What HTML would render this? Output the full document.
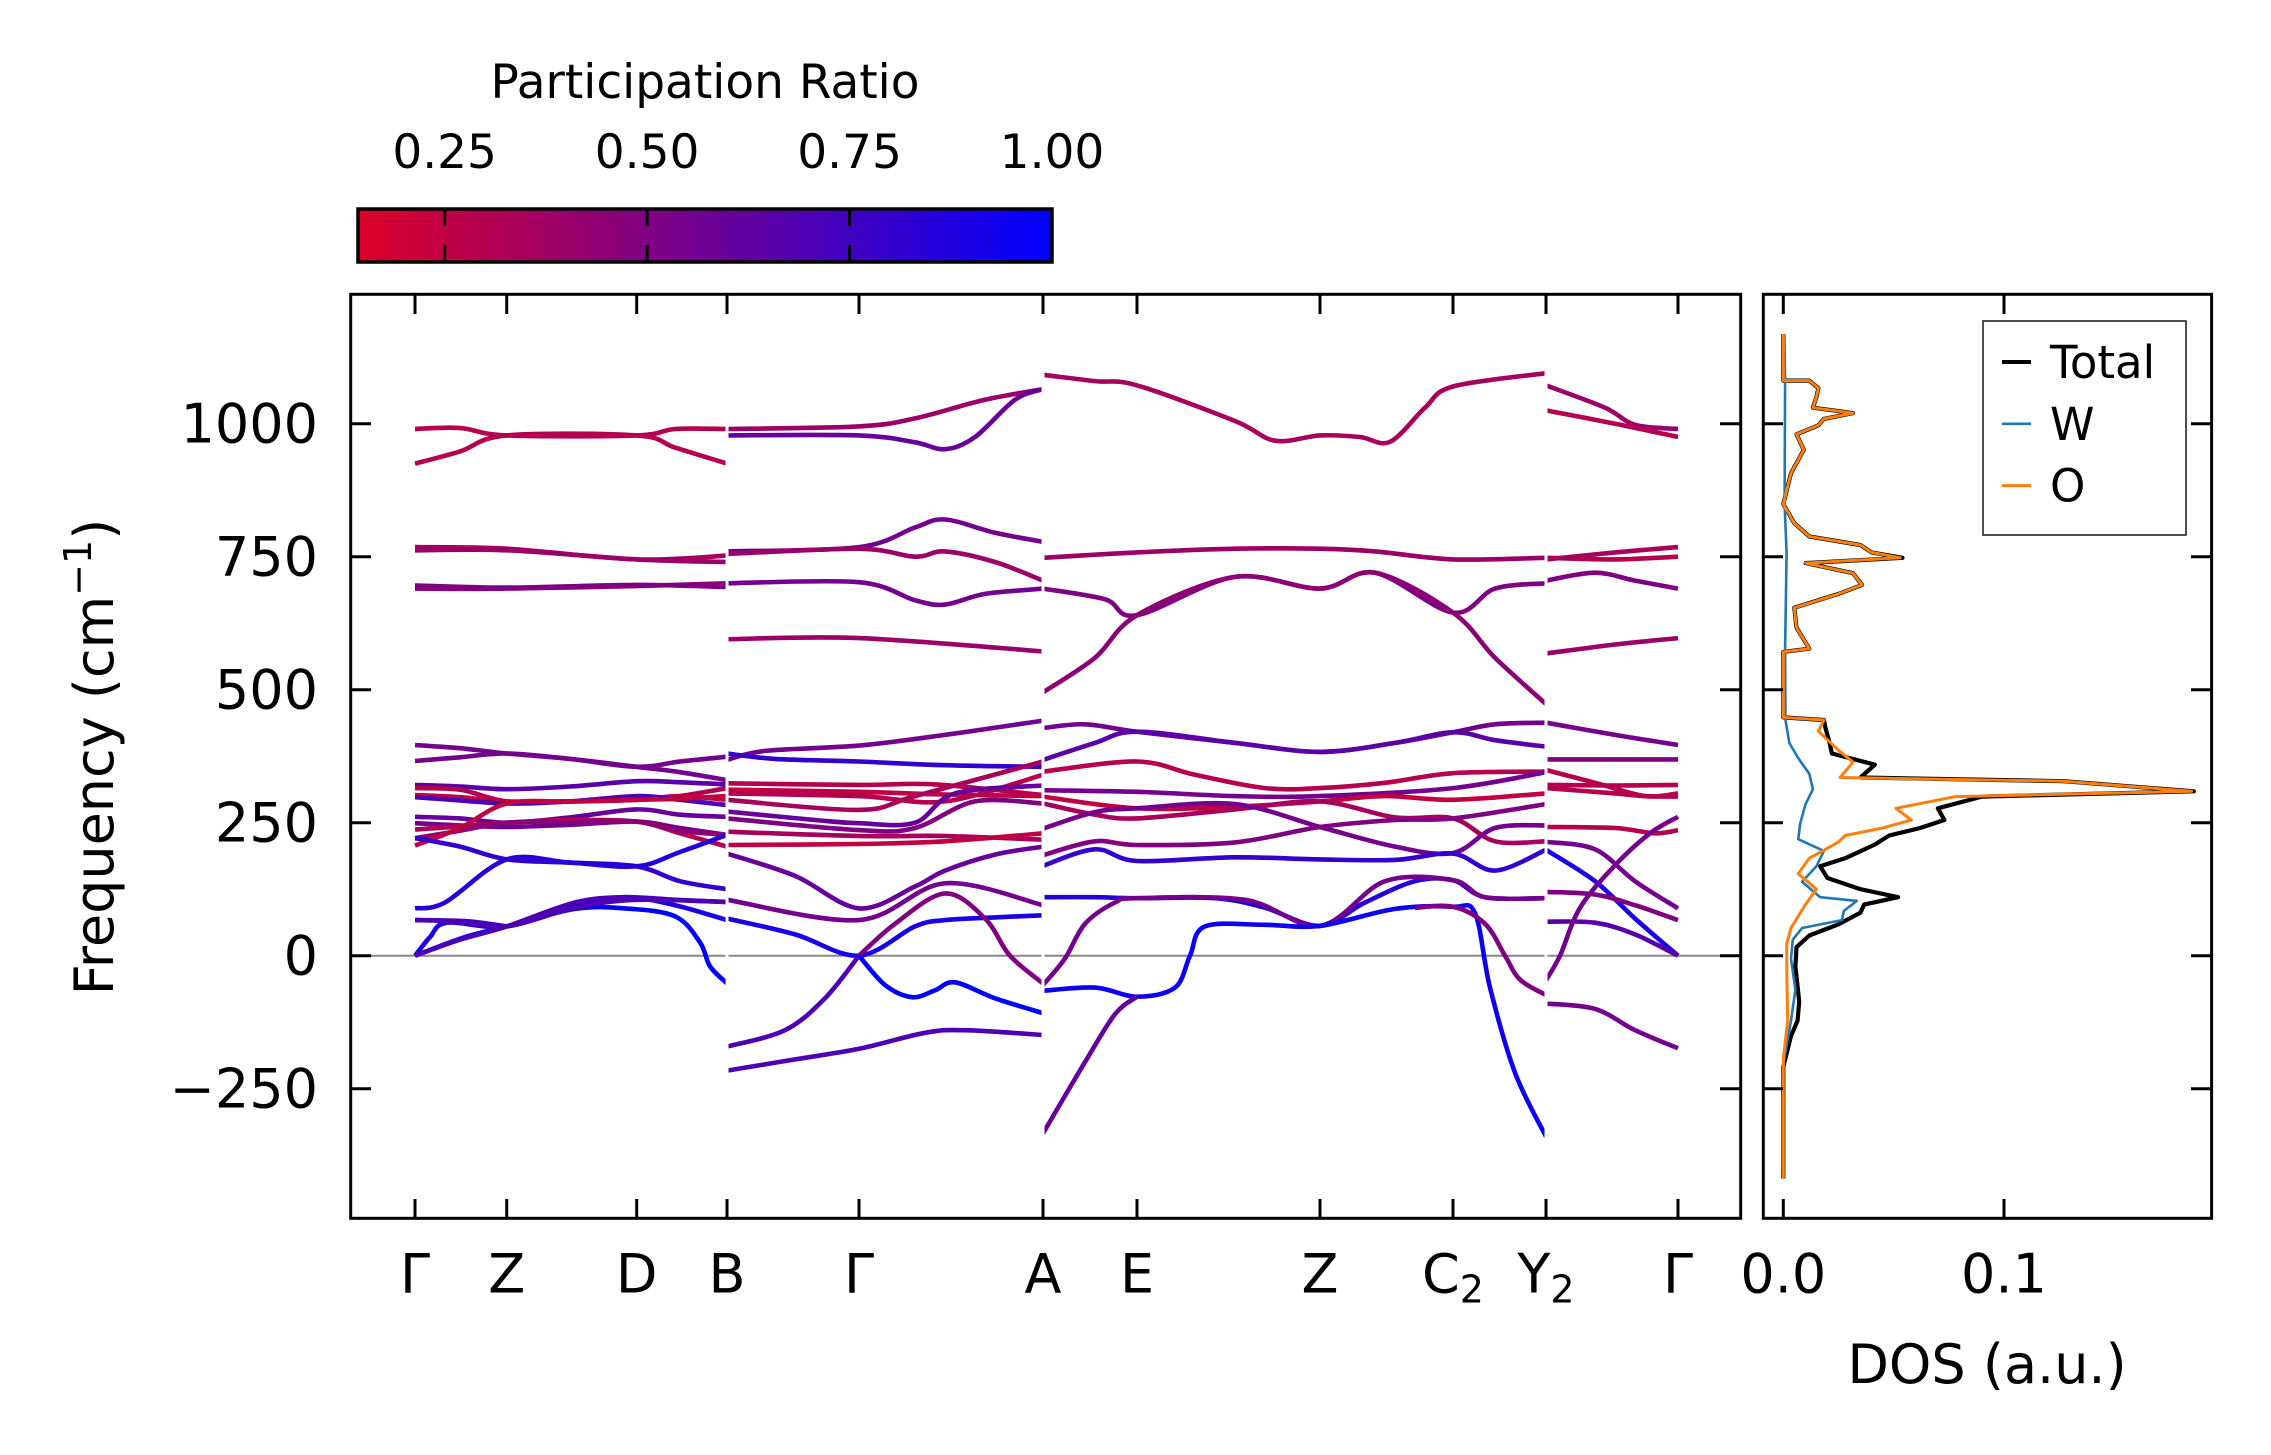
<!DOCTYPE html>
<html><head><meta charset="utf-8">
<style>
html,body{margin:0;padding:0;background:#fff;}
svg{display:block;font-family:"DejaVu Sans","Liberation Sans",sans-serif;}
</style></head>
<body>
<svg id="chart" width="2271" height="1455" viewBox="0 0 2271 1455" xmlns="http://www.w3.org/2000/svg">
<defs>
<linearGradient id="cbgrad" x1="0" x2="1" y1="0" y2="0">
<stop offset="0" stop-color="rgb(220,0,40)"/>
<stop offset="1" stop-color="rgb(0,0,255)"/>
</linearGradient>
<clipPath id="mainclip"><rect x="352" y="296" width="1387" height="921"/></clipPath>
<clipPath id="dosclip"><rect x="1765" y="296" width="445" height="921"/></clipPath>
</defs>
<g id="colorbar">
<text x="705" y="98" font-size="47" text-anchor="middle">Participation Ratio</text>
<rect x="358" y="209" width="694" height="53" fill="url(#cbgrad)" stroke="#000" stroke-width="3.5"/>
</g>
<g id="main"></g>
<g id="dos"></g>
</svg>
<script>
// ---- data ----
const cbTicks = [0.25, 0.5, 0.75, 1.0];
const cbTickLabels = ["0.25", "0.50", "0.75", "1.00"];
const yTicks = [-250, 0, 250, 500, 750, 1000];
const yTickLabels = ["\u2212250", "0", "250", "500", "750", "1000"];
const kTicks = [0, 0.917, 2.217, 3.12, 4.44, 6.28, 7.22, 9.05, 10.38, 11.31, 12.63];
const kLabels = ["\u0393", "Z", "D", "B", "\u0393", "A", "E", "Z", "C|2", "Y|2", "\u0393"];
const dosTicks = [0.0, 0.1];
const dosTickLabels = ["0.0", "0.1"];

const bandPR = [
 .3,.3,.35,.4,.45,.5,
 .55,.55,.65,.3,.25,.7,.6,.55,.3,.45,.25,.8,.85,.75,.9,1.0,.7,.7,
 .4,.6,.55,.4,.55,.4,
 .55,.8,.3,.25,.35,.3,.6,.5,.35,.25,.6,.55,.9,.5,.7,1.0,.7,
 .35,.4,.5,.45,
 .55,.65,.3,.55,.25,.35,.55,.5,.8,.85,.55,.95,.6,.5,
 .4,.3,.3,.35,.5,.4,
 .55,.5,.3,.3,.3,.3,.55,.9,.5,.65,.55,.55
];
const bandPts = [
 [[0,990],[0.45,992],[0.917,978],[2.217,978],[2.6,990],[3.12,990]],
 [[0,925],[0.45,948],[0.917,978],[2.217,978],[2.6,955],[3.12,925]],
 [[0,768],[0.917,765],[2.217,745],[3.12,752]],
 [[0,762],[0.917,762],[2.217,745],[3.12,740]],
 [[0,690],[0.917,690],[2.217,695],[3.12,700]],
 [[0,696],[0.917,692],[2.217,697],[3.12,693]],
 [[0,396],[0.45,390],[0.917,380],[1.55,370],[2.217,355],[2.65,345],[3.12,330]],
 [[0,366],[0.45,373],[0.917,380],[1.55,370],[2.217,355],[2.65,365],[3.12,374]],
 [[0,321],[0.45,318],[0.917,313],[1.55,318],[2.217,328],[2.65,326],[3.12,322]],
 [[0,315],[0.45,312],[0.917,290],[1.55,290],[2.217,293],[2.65,300],[3.12,315]],
 [[0,302],[0.45,298],[0.917,290],[1.55,290],[2.217,293],[2.65,300],[3.12,293]],
 [[0,298],[0.45,292],[0.917,286],[1.55,290],[2.217,300],[2.65,293],[3.12,283]],
 [[0,261],[0.45,258],[0.917,250],[1.55,260],[2.217,275],[2.65,265],[3.12,261]],
 [[0,249],[0.45,245],[0.917,242],[1.55,246],[2.217,252],[2.65,240],[3.12,227]],
 [[0,237],[0.45,243],[0.917,250],[1.55,255],[2.217,252],[2.65,230],[3.12,205]],
 [[0,221],[0.45,235],[0.917,250],[1.55,252],[2.217,252],[2.65,235],[3.12,227]],
 [[0,207],[0.45,240],[0.917,286],[1.55,290],[2.217,293],[2.65,295],[3.12,300]],
 [[0,221],[0.45,205],[0.917,181],[1.55,175],[2.217,168],[2.65,140],[3.12,125]],
 [[0,89],[0.3,100],[0.917,181],[1.55,175],[2.217,168],[2.65,195],[3.12,227]],
 [[0,67],[0.5,65],[0.917,55]],
 [[0,0],[0.15,35],[0.32,62],[0.917,55],[1.6,95],[2.1,110],[2.6,95],[3.12,67]],
 [[0,0],[0.5,35],[0.917,55],[1.6,88],[2.1,89],[2.6,74],[2.85,25],[2.95,-20],[3.12,-52]],
 [[0,0],[0.45,30],[0.917,55],[1.6,100],[2.1,110],[2.6,105],[3.12,101]],
 [[0,67],[0.45,64],[0.917,55],[1.6,90],[2.217,105],[3.12,101]],
 [[3.12,990],[4.44,995],[5.0,1010],[5.7,1045],[6.28,1065]],
 [[3.12,978],[4.44,978],[5.0,965],[5.3,952],[5.6,975],[6.0,1045],[6.28,1065]],
 [[3.12,760],[4.44,768],[5.0,805],[5.3,820],[5.8,795],[6.28,778]],
 [[3.12,755],[4.44,765],[5.0,750],[5.3,760],[5.8,740],[6.28,705]],
 [[3.12,700],[4.44,702],[5.0,668],[5.3,660],[5.7,680],[6.28,690]],
 [[3.12,595],[4.44,597],[6.28,572]],
 [[3.12,368],[3.5,385],[4.44,395],[5.3,415],[6.28,442]],
 [[3.12,380],[3.6,370],[4.44,365],[5.3,358],[6.28,355]],
 [[3.12,324],[4.44,321],[5.2,322],[6.28,302]],
 [[3.12,312],[4.44,308],[5.3,303],[6.28,300]],
 [[3.12,293],[4.44,274],[5.0,300],[6.28,365]],
 [[3.12,305],[4.44,300],[5.3,290],[6.28,340]],
 [[3.12,271],[4.0,255],[4.44,249],[5.0,250],[5.4,305],[6.28,320]],
 [[3.12,258],[4.44,236],[5.0,240],[5.6,290],[6.28,286]],
 [[3.12,233],[4.44,225],[5.3,225],[6.28,218]],
 [[3.12,208],[4.44,210],[5.3,215],[6.28,230]],
 [[3.12,192],[3.8,150],[4.44,89],[5.0,130],[5.3,160],[5.8,190],[6.28,205]],
 [[3.12,105],[4.44,67],[5.3,136],[6.28,95]],
 [[3.12,70],[3.8,40],[4.44,0],[5.0,55],[5.3,67],[5.8,72],[6.28,76]],
 [[4.44,0],[4.8,60],[5.3,117],[5.7,70],[5.95,0],[6.28,-52]],
 [[3.12,-171],[3.7,-140],[4.1,-80],[4.44,0]],
 [[4.44,0],[4.7,-55],[4.97,-78],[5.2,-65],[5.4,-50],[5.8,-80],[6.28,-108]],
 [[3.12,-216],[3.8,-195],[4.44,-175],[5.1,-145],[5.5,-140],[6.28,-149]],
 [[6.28,1092],[6.8,1080],[7.22,1072],[8.2,1005],[8.6,968],[9.05,978],[9.45,975],[9.75,966],[10.1,1030],[10.38,1070],[11.31,1095]],
 [[6.28,748],[7.22,758],[8.2,765],[9.05,765],[9.6,760],[10.38,745],[11.31,748]],
 [[6.28,690],[6.9,670],[7.22,640],[8.2,712],[9.05,690],[9.6,720],[10.38,645],[10.8,690],[11.31,700]],
 [[6.28,495],[6.8,560],[7.22,640],[8.2,712],[9.05,690],[9.6,720],[10.38,645],[10.8,560],[11.31,473]],
 [[6.28,428],[6.7,435],[7.22,421],[8.2,400],[9.05,383],[9.8,400],[10.38,420],[10.8,435],[11.31,438]],
 [[6.28,368],[6.8,400],[7.22,421],[8.2,400],[9.05,383],[9.8,400],[10.38,420],[10.8,405],[11.31,393]],
 [[6.28,346],[7.22,365],[7.8,340],[8.5,315],[9.05,315],[9.7,325],[10.38,343],[11.31,346]],
 [[6.28,311],[7.22,308],[8.2,300],[9.05,300],[10.38,315],[11.31,345]],
 [[6.28,299],[7.22,277],[8.2,280],[9.05,290],[9.7,300],[10.38,293],[11.31,305]],
 [[6.28,286],[6.8,265],[7.22,258],[8.2,275],[9.05,290],[9.8,260],[10.38,258],[10.8,215],[11.31,215]],
 [[6.28,239],[6.8,270],[7.22,277],[8.2,285],[9.05,242],[9.8,205],[10.38,193],[10.8,240],[11.31,245]],
 [[6.28,189],[6.8,215],[7.22,208],[8.2,213],[9.05,242],[9.8,255],[10.38,258],[11.31,285]],
 [[6.28,169],[6.8,200],[7.22,178],[8.2,185],[9.05,181],[9.8,180],[10.38,192],[10.8,160],[11.31,199]],
 [[6.28,110],[6.8,110],[7.22,108],[8.0,108],[8.5,90],[9.05,56],[9.5,100],[10.0,140],[10.38,142],[10.7,110],[11.31,108]],
 [[6.28,-55],[6.5,-5],[6.7,60],[7.0,100],[7.22,108],[8.3,105],[9.05,56],[9.7,140],[10.38,142],[10.7,110],[11.31,108]],
 [[6.28,-66],[6.8,-60],[7.22,-77],[7.6,-60],[7.75,0],[7.9,55],[8.5,58],[9.05,56],[9.8,88],[10.38,92],[10.6,80],[10.75,-60],[11.0,-220],[11.31,-340]],
 [[6.28,-334],[6.7,-200],[7.0,-110],[7.22,-77]],
 [[10.0,90],[10.38,92],[10.7,60],[10.9,0],[11.05,-45],[11.31,-74]],
 [[11.31,1072],[11.9,1030],[12.2,998],[12.63,990]],
 [[11.31,1025],[12.0,1000],[12.63,975]],
 [[11.31,748],[12.0,745],[12.63,750]],
 [[11.31,745],[12.0,758],[12.63,768]],
 [[11.31,705],[11.8,720],[12.2,705],[12.63,690]],
 [[11.31,568],[12.0,585],[12.63,597]],
 [[11.31,438],[12.0,415],[12.63,396]],
 [[11.31,369],[12.63,369]],
 [[11.31,349],[11.8,325],[12.3,300],[12.63,305]],
 [[11.31,321],[12.0,320],[12.63,321]],
 [[11.31,315],[12.0,305],[12.3,300],[12.63,299]],
 [[11.31,242],[12.0,240],[12.4,230],[12.63,236]],
 [[11.31,214],[11.8,200],[12.2,140],[12.63,89]],
 [[11.31,199],[11.8,140],[12.2,70],[12.63,0]],
 [[11.31,120],[11.8,115],[12.2,95],[12.63,67]],
 [[11.31,64],[11.8,62],[12.2,40],[12.63,0]],
 [[11.31,-46],[11.45,0],[11.65,90],[12.0,170],[12.35,230],[12.63,261]],
 [[11.31,-90],[11.8,-100],[12.2,-140],[12.63,-174]]
];
const segBreaks = [3.12, 6.28, 11.31];

const dosO = [[1168,0],[1081,0],[1081,.0118],[1067,.0159],[1050,.015],[1030,.0134],[1020,.0316],[1009,.0184],[997,.0159],[980,.006],[951,.0093],[907,.0035],[849,0],[813,.005],[788,.0118],[772,.0349],[758,.04],[748,.053],[738,.0101],[719,.0316],[697,.0357],[680,.025],[654,.005],[617,.006],[577,.0118],[571,0],[448,0],[443,.0184],[422,.0159],[386,.025],[364,.0316],[335,.0258],[328,.127],[309,.185],[299,.078],[277,.051],[255,.058],[240,.045],[226,.028],[214,.025],[183,.0118],[154,.0068],[125,.015],[96,.01],[52,.0035],[23,.0016],[-35,.0016],[-122,.002],[-194,0],[-419,0]];
const dosTotal = [[1168,0],[1081,0],[1081,.0118],[1067,.0159],[1050,.015],[1030,.0134],[1020,.0316],[1009,.0184],[997,.0159],[980,.006],[951,.0093],[907,.0035],[849,0],[813,.005],[788,.0118],[772,.0349],[758,.04],[748,.054],[738,.0101],[719,.0316],[697,.0357],[680,.025],[654,.005],[617,.006],[577,.0118],[571,0],[448,0],[443,.0184],[430,.019],[400,.021],[380,.022],[359,.0415],[335,.035],[328,.127],[309,.186],[299,.09],[277,.07],[255,.073],[240,.062],[226,.048],[209,.0415],[183,.028],[168,.0167],[146,.02],[125,.035],[110,.052],[96,.0366],[81,.035],[59,.025],[38,.0118],[16,.006],[-20,.0055],[-86,.0072],[-122,.0065],[-151,.0035],[-209,0],[-419,0]];
const dosW = [[1168,.0005],[1081,.0008],[849,.0006],[757,.0015],[577,.0008],[443,.001],[400,.0027],[371,.0068],[342,.0118],[313,.0134],[284,.01],[248,.0076],[219,.0068],[197,.0184],[168,.015],[139,.0085],[110,.0167],[103,.0333],[84,.0274],[67,.0266],[52,.0085],[30,.0043],[-6,.0035],[-64,.0055],[-122,.0035],[-180,.001],[-209,0],[-419,0]];
const legendNames = ["Total", "W", "O"];

const NS = "http://www.w3.org/2000/svg";
const yS = v => 955.7 - 0.532 * v;
const xS = k => 415 + 100 * k;
const xD = d => 1783.3 + 2207 * d;
const cbX = p => 358 + (p - 0.143) / (1 - 0.143) * 694;
function prColor(p){
  const t = Math.max(0, Math.min(1, (p - 0.143) / (1 - 0.143)));
  return "rgb(" + Math.round(220*(1-t)) + ",0," + Math.round(40 + 215*t) + ")";
}
function mk(tag, attrs, parent){
  const e = document.createElementNS(NS, tag);
  for (const a in attrs) e.setAttribute(a, attrs[a]);
  parent.appendChild(e);
  return e;
}
function smoothPath(pts){
  let d = "M" + pts[0][0].toFixed(1) + "," + pts[0][1].toFixed(1);
  for (let i = 0; i < pts.length - 1; i++){
    const p0 = pts[Math.max(0,i-1)], p1 = pts[i], p2 = pts[i+1], p3 = pts[Math.min(pts.length-1,i+2)];
    const c1x = p1[0] + (p2[0]-p0[0])/6, c1y = p1[1] + (p2[1]-p0[1])/6;
    const c2x = p2[0] - (p3[0]-p1[0])/6, c2y = p2[1] - (p3[1]-p1[1])/6;
    d += " C" + c1x.toFixed(1) + "," + c1y.toFixed(1) + " " + c2x.toFixed(1) + "," + c2y.toFixed(1) + " " + p2[0].toFixed(1) + "," + p2[1].toFixed(1);
  }
  return d;
}

const cb = document.getElementById("colorbar");
cbTicks.forEach((t, i) => {
  const x = cbX(t);
  if (i < cbTicks.length - 1){
    const a = mk("line", {x1:x, x2:x, y1:209, y2:226, stroke:"#000", "stroke-width":3}, cb);
    
    
    const b = mk("line", {x1:x, x2:x, y1:245, y2:262, stroke:"#000", "stroke-width":3}, cb);
    
    
  }
  const tl = mk("text", {x:x, y:168, "font-size":47, "text-anchor":"middle"}, cb);
  tl.textContent = cbTickLabels[i];
  
  
});

const g = document.getElementById("main");
const zl = mk("line", {x1:352, x2:1739, y1:yS(0), y2:yS(0), stroke:"#888", "stroke-width":2}, g);


const bg = mk("g", {"clip-path":"url(#mainclip)"}, g);


bandPts.forEach((b, i) => {
  const pts = b.map(p => [xS(p[0]), yS(p[1])]);
  const p = mk("path", {d:smoothPath(pts), fill:"none", stroke:prColor(bandPR[i]), "stroke-width":4.6, "stroke-linecap":"butt"}, bg);
  
  
});
segBreaks.forEach(k => {
  const r = mk("rect", {x:xS(k)-1.5, y:296, width:3, height:921, fill:"#fff"}, g);
  
  
});
const frame = mk("rect", {x:350.7, y:294.3, width:1390, height:924, fill:"none", stroke:"#000", "stroke-width":3}, g);


yTicks.forEach((v, i) => {
  const y = yS(v);
  const t1 = mk("line", {x1:350.7, x2:371, y1:y, y2:y, stroke:"#000", "stroke-width":3}, g);
  
  
  const t2 = mk("line", {x1:1720, x2:1740.7, y1:y, y2:y, stroke:"#000", "stroke-width":3}, g);
  
  
  const tl = mk("text", {x:318, y:y+19, "font-size":54, "text-anchor":"end"}, g);
  tl.textContent = yTickLabels[i];
  
  
});
kTicks.forEach((k, i) => {
  const x = xS(k);
  const t1 = mk("line", {x1:x, x2:x, y1:294.3, y2:314, stroke:"#000", "stroke-width":3}, g);
  
  
  const t2 = mk("line", {x1:x, x2:x, y1:1199, y2:1218.3, stroke:"#000", "stroke-width":3}, g);
  
  
  const parts = kLabels[i].split("|");
  const tl = mk("text", {x:x, y:1292.7, "font-size":54, "text-anchor":"middle"}, g);
  
  
  tl.appendChild(document.createTextNode(parts[0]));
  if (parts[1]){
    const s = mk("tspan", {"font-size":38, dy:10}, tl);
    s.textContent = parts[1];
  }
});
const yl = mk("text", {x:0, y:0, "font-size":54, "text-anchor":"middle", transform:"translate(113,757) rotate(-90)"}, g);


yl.appendChild(document.createTextNode("Frequency (cm"));
const sup1 = mk("tspan", {"font-size":38, dy:-22}, yl);
sup1.textContent = "\u22121";
const sup2 = mk("tspan", {dy:22}, yl);
sup2.textContent = ")";

const dg = document.getElementById("dos");
const dc = mk("g", {"clip-path":"url(#dosclip)"}, dg);


const dosLine = (arr, color, w, name) => {
  const d = arr.map((p, i) => (i ? "L" : "M") + xD(p[1]).toFixed(1) + "," + yS(p[0]).toFixed(1)).join(" ");
  const p = mk("path", {d:d, fill:"none", stroke:color, "stroke-width":w, "stroke-linejoin":"round"}, dc);
  
  
};
dosLine(dosTotal, "#000", 4.2, "dos-total-line");
dosLine(dosW, "#1f77b4", 2.6, "dos-w-line");
dosLine(dosO, "#ff7f0e", 3, "dos-o-line");
const dframe = mk("rect", {x:1763.3, y:294.3, width:448.3, height:924, fill:"none", stroke:"#000", "stroke-width":3}, dg);


yTicks.forEach(v => {
  const y = yS(v);
  const a = mk("line", {x1:1763.3, x2:1783, y1:y, y2:y, stroke:"#000", "stroke-width":3}, dg);
  
  
  const b = mk("line", {x1:2191, x2:2211.6, y1:y, y2:y, stroke:"#000", "stroke-width":3}, dg);
  
  
});
dosTicks.forEach((t, i) => {
  const x = xD(t);
  const a = mk("line", {x1:x, x2:x, y1:294.3, y2:314, stroke:"#000", "stroke-width":3}, dg);
  
  
  const b = mk("line", {x1:x, x2:x, y1:1199, y2:1218.3, stroke:"#000", "stroke-width":3}, dg);
  
  
  const tl = mk("text", {x:x, y:1292.7, "font-size":54, "text-anchor":"middle"}, dg);
  tl.textContent = dosTickLabels[i];
  
  
});
const dl = mk("text", {x:1987, y:1383, "font-size":54, "text-anchor":"middle"}, dg);
dl.textContent = "DOS (a.u.)";


const lg = mk("g", {}, dg);


const lb = mk("rect", {x:1983, y:321, width:203, height:214, fill:"#fff", stroke:"#222", "stroke-width":1.6}, lg);


const legColors = ["#000", "#1f77b4", "#ff7f0e"];
const legW = [4, 2.6, 3];
legendNames.forEach((n, i) => {
  const cy = 362 + i * 61.8;
  const ln = mk("line", {x1:2002, x2:2031, y1:cy, y2:cy, stroke:legColors[i], "stroke-width":legW[i]}, lg);
  
  
  const tx = mk("text", {x:2050, y:cy+16, "font-size":45}, lg);
  tx.textContent = n;
  
  
});
</script>
</body></html>
